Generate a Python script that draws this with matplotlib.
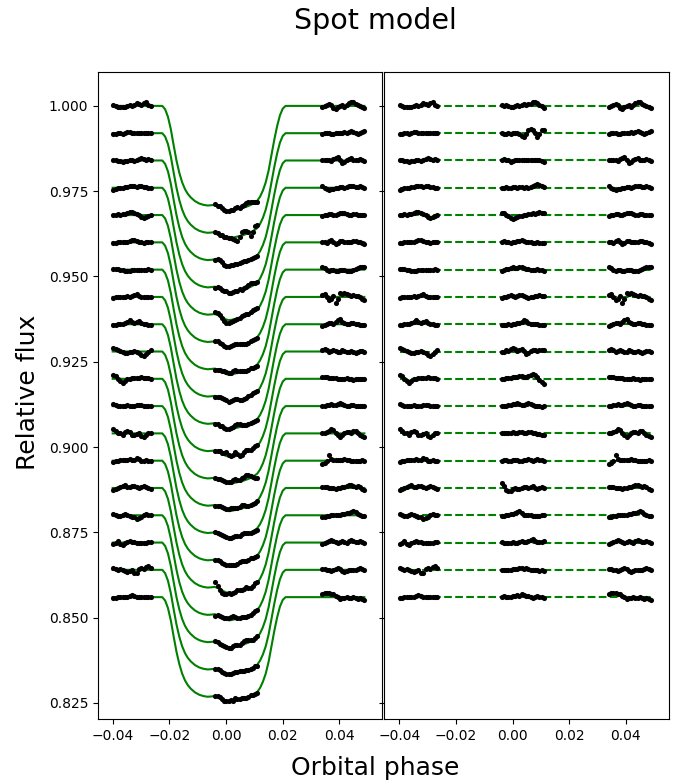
import numpy as np
import matplotlib
matplotlib.use("Agg")
import matplotlib.pyplot as plt

# ---------------------------------------------------------------
# data
# ---------------------------------------------------------------
# one light curve per row, shifted down by 0.008 each
baselines = [1.000, 0.992, 0.984, 0.976, 0.968, 0.960, 0.952, 0.944, 0.936,
             0.928, 0.920, 0.912, 0.904, 0.896, 0.888, 0.880, 0.872, 0.864,
             0.856]

# observation phases: pre-transit, in-transit, post-transit groups
phase_pre = np.linspace(-0.0398, -0.0266, 17)
phase_in = np.linspace(-0.0038, 0.0110, 20)
phase_post = np.linspace(0.0340, 0.0488, 20)

# transit model (depth, units of 1e-4 relative flux) at knot phases
model_phase = [-0.0400, -0.0225, -0.0215, -0.0205, -0.0195, -0.0185, -0.0175,
               -0.0165, -0.0155, -0.0145, -0.0135, -0.0125, -0.0110, -0.0095,
               -0.0080, -0.0065, -0.0050, -0.0040, -0.0030, -0.0020, -0.0010,
               0.0000, 0.0010, 0.0020, 0.0030, 0.0040, 0.0050, 0.0060,
               0.0070, 0.0080, 0.0090, 0.0100, 0.0110, 0.0120, 0.0130,
               0.0140, 0.0150, 0.0160, 0.0170, 0.0180, 0.0190, 0.0200,
               0.0210, 0.0488]
model_depth = [0, 0, 10, 32, 68, 115, 160, 196, 224, 244, 258, 268, 279, 286,
               290, 292, 291, 290, 293, 297, 302, 306, 308, 307, 305, 303,
               301, 299, 296, 293, 289, 284, 278, 266, 248, 224, 190, 145,
               100, 60, 28, 8, 0, 0]

# model depth at the in-transit observation phases (1e-4)
in_depth = [291, 292, 295, 299, 303, 306, 308, 308, 306, 304,
            303, 301, 299, 297, 295, 293, 290, 286, 282, 278]

# residuals (units of 1e-4), row by row: pre / in / post
res_pre = [
    [3, 0, -3, -4, -3, -2, 0, 2, 1, 4, 8, 5, 2, 9, 11, 4, 0],
    [-3, -1, 2, 1, -2, 1, 4, 3, 1, 0, 1, 2, 1, 0, 2, 1, 0],
    [2, 1, -1, -2, -3, -1, -2, 0, 1, -1, 2, 3, 7, 5, 1, 3, 1],
    [-6, -4, -2, 0, -1, 1, 3, 5, 6, 4, 2, 4, 6, 3, 1, 0, -1],
    [1, 0, 2, 1, 3, 4, 6, 9, 10, 7, 3, 0, -6, -9, -7, -3, -1],
    [-2, -1, 0, 1, 2, 1, 2, 4, 6, 8, 5, 2, 0, -1, 0, 1, 0],
    [1, 3, 2, 0, -1, -3, -4, -3, -2, -1, 0, -1, -2, -1, 0, 1, 0],
    [-2, -1, 0, 0, -1, 1, 2, 1, 2, 6, 8, 3, 1, 0, -1, 0, 0],
    [-2, -1, 0, 1, 2, 4, 8, 11, 7, 3, 6, 9, 5, 2, 0, -1, -2],
    [10, 7, 3, 1, -2, -4, -3, -1, 0, 2, -1, -5, -9, -12, -6, 0, 3],
    [12, 8, 0, -7, -12, -6, -2, 0, 1, 2, 3, 2, 4, 3, 2, 1, 0],
    [6, 3, 0, -1, 0, 1, 2, 1, 0, 1, 2, 3, 2, 0, -1, 0, 1],
    [12, 8, 2, 0, -4, 3, 7, 4, -6, -4, -2, 0, -8, -11, -5, 0, 1],
    [-3, -1, 0, 1, 2, 2, 3, 5, 3, 2, 8, 5, 0, -2, 2, 0, -1],
    [-6, -3, 0, 2, 5, 8, 4, 2, 5, 6, 3, 0, 3, 6, 2, -1, -2],
    [4, 2, -2, -1, 2, 4, 1, -2, -4, -6, -10, -7, -4, 0, 4, 2, 0],
    [-4, 0, 4, -3, -6, -2, 2, 5, 3, 1, 0, -1, 0, -1, 0, 1, 2],
    [4, 3, 1, 2, 0, -3, -6, -4, -1, -10, -8, 2, 6, 3, 8, 12, 4],
    [-2, -3, -1, 0, 1, 0, -1, 3, 6, 4, 1, -1, 0, -1, 0, 0, 0],
]
res_in = [
    [2, 0, 3, -1, -3, -2, 0, 2, 1, 4, 6, 3, 5, 7, 10, 12, 8, 4, 0, -5],
    [0, -1, -2, 0, -1, 1, 2, 0, -3, -9, -12, -3, 8, 11, 9, 2, -10, -3, 9, 10],
    [0, 3, 2, 0, -3, -2, 0, 2, 1, 2, 0, 1, 2, 1, 0, 2, 1, 0, -1, -3],
    [-2, 0, 1, -1, 0, 2, 1, 0, 1, 2, 0, 3, -1, 2, 5, 7, 10, 8, 4, 2],
    [7, 5, 1, -3, -8, -11, -9, -6, -4, -3, -1, 0, 2, 3, 5, 4, 6, 8, 7, 5],
    [2, 3, 1, 0, -1, 0, 2, 3, 4, 6, 4, 2, 1, 0, -2, -1, 0, -1, -2, -3],
    [-3, -1, 1, 3, 5, 7, 6, 5, 8, 9, 6, 3, 1, 0, -1, 0, 1, -1, -2, -4],
    [-3, -1, 1, 3, 5, 3, 1, 3, 5, 6, 3, 0, -2, -1, 0, 2, 4, 5, 3, 2],
    [-2, -1, -2, 0, -1, 0, 1, 3, 5, 8, 12, 9, 4, 2, 0, 1, 0, -1, -2, -3],
    [-2, 0, 3, 2, 6, 10, 6, 2, 4, 8, 2, -6, -3, 2, 5, 3, 1, 3, 5, 4],
    [0, -1, 1, 2, 3, 4, 5, 6, 8, 9, 6, 4, 7, 10, 14, 12, 5, -3, -10, -14],
    [-1, 0, 1, 2, 3, 5, 6, 8, 7, 4, 3, 5, 8, 6, 2, 0, -1, 0, -2, -1],
    [2, 1, 0, 1, 2, 3, 1, 2, 3, 4, 2, 1, 3, 4, 2, 0, -2, -3, -4, -5],
    [0, 2, 1, -2, -1, 1, 3, 2, 0, -2, 1, 3, 4, 2, 0, 3, 4, 2, 1, 0],
    [14, 6, -5, -10, -8, -4, 0, -2, -3, 0, 3, 2, 0, 2, 5, 1, -3, -1, 2, 1],
    [-3, -1, 0, 2, 3, 5, 6, 10, 12, 6, 2, 0, 2, 0, -2, -3, -2, -1, 0, 1],
    [1, 0, -1, -2, 0, 1, 0, -1, 2, 4, 3, 2, 5, 8, 10, 6, 3, 1, 3, 5],
    [0, 1, 0, -1, 0, 2, 3, 2, 4, 5, 3, 4, 2, 0, 1, -1, 0, -2, -1, -3],
    [0, 2, 1, -1, 0, 2, 4, 6, 3, 9, 5, 2, 4, 1, -2, 0, 2, 0, -1, -2],
]
res_post = [
    [-2, 0, 3, 5, 2, -6, -9, -4, 0, 2, -2, 3, 8, 11, 12, 6, 2, -1, -4, -6],
    [-1, 0, 1, 0, -1, -2, 0, 1, 0, 2, 3, 1, 4, 6, 3, 0, -3, 1, 4, 5],
    [1, 0, 2, 0, -1, 3, 6, 10, 2, -8, -3, 0, 4, 6, 2, 0, 1, 3, 0, -2],
    [4, 0, -4, -6, -5, -3, -2, 0, 2, 1, 0, 3, 5, 6, 4, 2, 3, 5, 3, 0],
    [-2, -1, 0, 2, 4, 1, 0, 2, 5, 7, 5, 3, 0, 1, 3, 2, 0, -1, 0, 1],
    [2, 0, -3, 4, 6, 1, -4, -1, 3, 4, 2, 0, 1, 2, 3, 4, 2, 0, -2, -4],
    [9, 4, -1, -3, -2, -1, -3, -4, -2, 0, -1, -3, -5, -3, 0, 2, 5, 8, 9, 7],
    [5, 8, 0, -10, -5, 2, -17, -5, 12, 10, 11, 8, 6, 4, 5, 3, 2, 0, -5, -10],
    [-4, -2, 1, 3, 4, 2, 6, 12, 16, 8, 3, 1, 2, 4, 3, 1, 0, -1, -2, -3],
    [5, 8, 3, 0, 2, 4, 1, -2, 0, 3, 1, -2, 0, 2, -1, -3, 0, 2, 1, 0],
    [6, 5, 4, 3, 2, 2, 1, 0, 0, -1, 0, 1, 0, -2, -3, -1, 0, -2, -1, -2],
    [0, 1, 2, 4, 6, 3, 2, 5, 8, 6, 2, 0, 1, 3, 2, 0, 1, -1, 0, 1],
    [0, 2, 4, 8, 12, 9, 2, -6, -10, -4, 0, 3, 5, 2, 6, 8, 0, -4, -8, -10],
    [-10, -6, 0, 16, 5, 2, 1, 3, 2, 3, 4, 2, 1, 0, -1, -2, -1, 0, 1, 0],
    [4, 3, 2, 1, 0, -1, -2, -1, 0, 2, 4, 6, 8, 10, 7, 4, 6, 3, -2, -6],
    [-4, -5, -3, -1, 0, 2, 1, 0, 2, 4, 3, 6, 8, 10, 12, 9, 4, 0, -2, -3],
    [-3, -1, 2, 5, 7, 4, 1, -1, 3, 6, 2, 0, 4, 7, 5, 2, 3, 4, 1, -2],
    [3, 2, 0, -1, -2, 0, 2, 4, 2, -3, -6, -2, 0, 1, -1, 0, 2, 4, 3, 1],
    [10, 12, 11, 12, 10, 8, 4, -1, -4, -3, -2, -1, -3, -2, 0, -2, -4, -3, -5, -7],
]

xticks = [-0.04, -0.02, 0.00, 0.02, 0.04]
yticks = [0.825, 0.850, 0.875, 0.900, 0.925, 0.950, 0.975, 1.000]

# ---------------------------------------------------------------
# plot
# ---------------------------------------------------------------
fig, (ax1, ax2) = plt.subplots(1, 2, sharey=True, figsize=(6.88, 7.84), dpi=100)
fig.subplots_adjust(left=0.1424, right=0.9724, bottom=0.083, top=0.908,
                    wspace=0.007)

mphase = np.array(model_phase)
mdepth = np.array(model_depth) * 1e-4
in_d = np.array(in_depth) * 1e-4
x_all = np.concatenate([phase_pre, phase_in, phase_post])

for i, base in enumerate(baselines):
    r_pre = np.array(res_pre[i]) * 1e-4
    r_in = np.array(res_in[i]) * 1e-4
    r_post = np.array(res_post[i]) * 1e-4

    # left: data + model
    ax1.plot(mphase, base - mdepth, color='green', lw=1.5, zorder=1)
    y_all = np.concatenate([base + r_pre, base - in_d + r_in, base + r_post])
    ax1.plot(x_all, y_all, 'o', color='black', ms=3.7, mew=0, zorder=2)

    # right: residuals
    ax2.plot([phase_pre[0], phase_post[-1]], [base, base], '--', color='green',
             lw=1.5, zorder=1)
    r_all = np.concatenate([base + r_pre, base + r_in, base + r_post])
    ax2.plot(x_all, r_all, 'o', color='black', ms=3.7, mew=0, zorder=2)

for ax in (ax1, ax2):
    ax.set_xlim(-0.0452, 0.0552)
    ax.set_xticks(xticks)
    ax.set_xticklabels([f'{t:.2f}'.replace('-', '\u2212') for t in xticks])
ax1.set_ylim(0.8203, 1.0099)
ax1.set_yticks(yticks)
ax1.set_yticklabels([f'{t:.3f}' for t in yticks])
ax2.tick_params(labelleft=False)

fig.text(0.545, 1 - 21 / 784, 'Spot model', fontsize=20.5, ha='center', va='center')
fig.text(0.545, 1 - 768 / 784, 'Orbital phase', fontsize=18, ha='center', va='center')
fig.text(0.04, 0.5, 'Relative flux', fontsize=18, rotation=90, ha='center',
         va='center')

plt.savefig('out.png', dpi=100)
